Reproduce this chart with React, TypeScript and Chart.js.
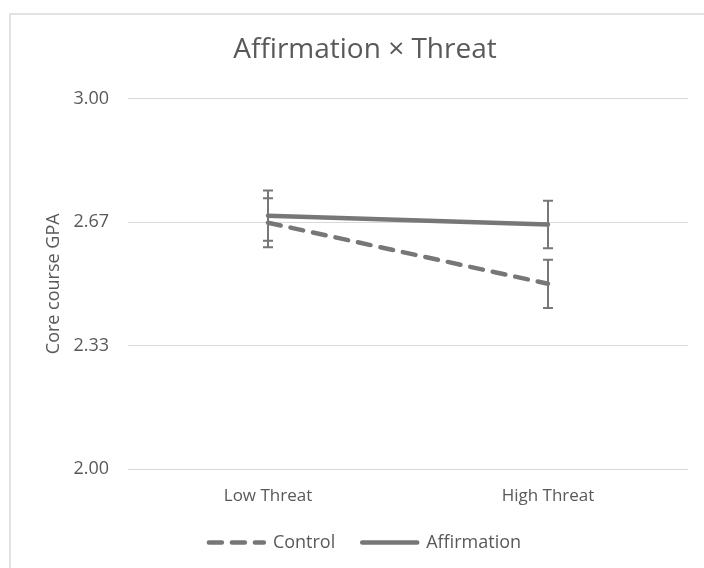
import React, { useEffect, useRef } from "react";
import { Chart, registerables } from "chart.js";

Chart.register(...registerables);

const categories = ["Low Threat", "High Threat"];
const controlMeans = [2.665, 2.5];
const affirmationMeans = [2.684, 2.66];
const controlErrors = [0.066, 0.065];
const affirmationErrors = [0.068, 0.064];
const yTickValues = [2.0, 2.3333, 2.6667, 3.0];
const yTickLabels = ["2.00", "2.33", "2.67", "3.00"];

const errorsByDataset = [controlErrors, affirmationErrors];

const LINE_COLOR = "#777777";
const TEXT_COLOR = "#595959";
const GRID_COLOR = "#d9d9d9";
const FONT = "'Open Sans', 'DejaVu Sans', sans-serif";

const errorBarPlugin = {
  id: "errorBars",
  afterDatasetsDraw(chart: any) {
    const { ctx } = chart;
    const x = chart.scales.x;
    const y = chart.scales.y;
    chart.data.datasets.forEach((ds: any, di: number) => {
      const errs = errorsByDataset[di];
      ds.data.forEach((v: number, i: number) => {
        const e = errs[i];
        const px = x.getPixelForValue(i);
        const yt = y.getPixelForValue(v + e);
        const yb = y.getPixelForValue(v - e);
        ctx.save();
        ctx.strokeStyle = LINE_COLOR;
        ctx.lineWidth = 2;
        ctx.setLineDash([]);
        ctx.beginPath();
        ctx.moveTo(px, yt);
        ctx.lineTo(px, yb);
        ctx.moveTo(px - 5, yt);
        ctx.lineTo(px + 5, yt);
        ctx.moveTo(px - 5, yb);
        ctx.lineTo(px + 5, yb);
        ctx.stroke();
        ctx.restore();
      });
    });
  },
};

export default function App() {
  const canvasRef = useRef<HTMLCanvasElement | null>(null);

  useEffect(() => {
    if (!canvasRef.current) return;
    const chart = new Chart(canvasRef.current, {
      type: "line",
      data: {
        labels: categories,
        datasets: [
          {
            label: "Control",
            data: controlMeans,
            borderColor: LINE_COLOR,
            backgroundColor: LINE_COLOR,
            borderWidth: 4.5,
            borderDash: [13, 10],
            borderCapStyle: "round",
            pointRadius: 0,
            fill: false,
          },
          {
            label: "Affirmation",
            data: affirmationMeans,
            borderColor: LINE_COLOR,
            backgroundColor: LINE_COLOR,
            borderWidth: 4.5,
            borderCapStyle: "round",
            pointRadius: 0,
            fill: false,
          },
        ],
      },
      options: {
        responsive: false,
        animation: false,
        devicePixelRatio: 1,
        layout: { padding: { left: 42, right: 16, top: 0, bottom: 6.6 } },
        plugins: {
          tooltip: { enabled: false },
          title: {
            display: true,
            text: "Affirmation × Threat",
            color: TEXT_COLOR,
            font: { family: FONT, size: 28, weight: "normal" },
            padding: { top: 33, bottom: 32 },
          },
          legend: {
            display: true,
            position: "bottom",
            labels: {
              color: TEXT_COLOR,
              font: { family: FONT, size: 18 },
              usePointStyle: true,
              pointStyle: "line",
              pointStyleWidth: 55,
              padding: 27,
              generateLabels(chart: any) {
                const items = Chart.defaults.plugins.legend.labels.generateLabels(chart);
                return items.map((it: any) => {
                  const ds: any = chart.data.datasets[it.datasetIndex];
                  return {
                    ...it,
                    lineDash: ds.borderDash || [],
                    lineCap: "round",
                    lineWidth: ds.borderWidth,
                    strokeStyle: ds.borderColor,
                    pointStyle: "line",
                  };
                });
              },
            },
          },
        },
        scales: {
          x: {
            type: "category",
            offset: true,
            grid: { display: false, drawTicks: false },
            border: { display: false },
            ticks: {
              color: TEXT_COLOR,
              font: { family: FONT, size: 17 },
              padding: 17,
            },
            afterFit(scale: any) {
              scale.height = 37.4;
            },
          },
          y: {
            min: 2,
            max: 3,
            grid: { color: GRID_COLOR, lineWidth: 1, drawTicks: false },
            border: { display: false },
            ticks: {
              color: TEXT_COLOR,
              font: { family: FONT, size: 18 },
              padding: 19,
              callback: (_v: any, i: number) => yTickLabels[i],
            },
            afterBuildTicks(scale: any) {
              scale.ticks = yTickValues.map((v) => ({ value: v }));
            },
            title: {
              display: true,
              text: "Core course GPA",
              color: TEXT_COLOR,
              font: { family: FONT, size: 18 },
              padding: { top: 1, bottom: 0 },
            },
            afterFit(scale: any) {
              scale.width = 86;
            },
          },
        },
      },
      plugins: [errorBarPlugin],
    });
    return () => chart.destroy();
  }, []);

  return (
    <div
      style={{
        position: "fixed",
        left: 0,
        top: 0,
        width: 704,
        height: 568,
        overflow: "hidden",
        background: "#ffffff",
      }}
    >
      <div
        style={{
          position: "absolute",
          left: 9,
          top: 13,
          width: 720,
          height: 600,
          border: "2px solid #e2e2e2",
          boxSizing: "border-box",
        }}
      />
      <canvas
        ref={canvasRef}
        width={704}
        height={568}
        style={{ position: "absolute", left: 0, top: 0, width: 704, height: 568 }}
      />
    </div>
  );
}
